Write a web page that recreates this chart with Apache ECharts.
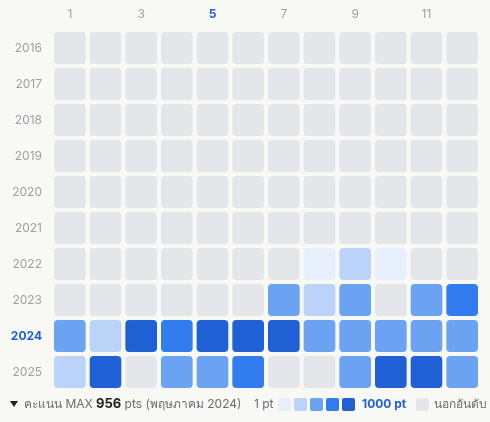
<!DOCTYPE html>
<html><head><meta charset="utf-8">
<script src="https://cdn.jsdelivr.net/npm/echarts@6/dist/echarts.min.js"></script>
<style>html,body{margin:0;padding:0;background:#f8f8f5}#c{width:490px;height:422px}</style>
</head><body><div id="c"></div>
<script>
const months = ['1','2','3','4','5','6','7','8','9','10','11','12'];
const years = ['2016','2017','2018','2019','2020','2021','2022','2023','2024','2025'];
// points per month per year; null = out of ranking
const y2022 = [null,null,null,null,null,null,null,60,220,50,null,null];
const y2023 = [null,null,null,null,null,null,450,230,460,null,440,700];
const y2024 = [470,210,880,720,956,900,910,460,450,470,460,450];
const y2025 = [230,890,null,450,440,720,null,null,460,900,910,450];
const rows = {'2022':y2022,'2023':y2023,'2024':y2024,'2025':y2025};
const maxYear='2024', maxMonth='5';
const levelColors=['#e8effc','#bcd3f9','#6ba2f1','#317def','#1f60d5'];
const emptyColor='#e5e6ea';
const data=[];
years.forEach(y=>{months.forEach((m,i)=>{const v=rows[y]?rows[y][i]:null;data.push([m,y,v==null?-1:v]);});});
const chart=echarts.init(document.getElementById('c'));
const font='Inter, "Noto Sans", sans-serif';
chart.setOption({
 backgroundColor:'#f8f8f5',
 grid:{left:52,right:10,top:30,bottom:32},
 xAxis:{type:'category',data:months,position:'top',axisLine:{show:false},axisTick:{show:false},
  axisLabel:{margin:10,fontFamily:font,fontSize:12,color:'#a09ea6',
   formatter:v=>v===maxMonth?'{b|'+v+'}':v,rich:{b:{color:'#1f60d5',fontWeight:'bold',fontFamily:font,fontSize:12}}}},
 yAxis:{type:'category',data:years,inverse:true,axisLine:{show:false},axisTick:{show:false},
  axisLabel:{margin:10,fontFamily:font,fontSize:12,color:'#a09ea6',
   formatter:v=>v===maxYear?'{b|'+v+'}':v,rich:{b:{color:'#1f60d5',fontWeight:'bold',fontFamily:font,fontSize:12}}}},
 visualMap:{show:false,type:'piecewise',dimension:2,seriesIndex:0,pieces:[
  {lt:0,color:emptyColor},{gte:0,lt:150,color:levelColors[0]},{gte:150,lt:350,color:levelColors[1]},
  {gte:350,lt:600,color:levelColors[2]},{gte:600,lt:800,color:levelColors[3]},{gte:800,color:levelColors[4]}]},
 series:[{type:'custom',data:data,renderItem:(params,api)=>{
   const c=api.coord([api.value(0),api.value(1)]);
   const s=api.size([1,1]);
   const w=s[0]-4,h=s[1]-4;
   const children=[{type:'rect',shape:{x:c[0]-w/2,y:c[1]-h/2,width:w,height:h,r:4},style:{fill:api.visual('color')}}];
   if(api.value(0)==maxMonth && api.value(1)==maxYear){
     children.push({type:'rect',shape:{x:c[0]-w/2-1,y:c[1]-h/2-1,width:w+2,height:h+2,r:5},style:{fill:'none',stroke:'#111',lineWidth:2.2}});
     const ty=c[1]-h/2-9;
     children.push({type:'polygon',shape:{points:[[c[0]-4,ty-3],[c[0]+4,ty-3],[c[0],ty+3]]},style:{fill:'#222'}});
   }
   return {type:'group',children};
 }}],
 graphic:[
  {type:'polygon',shape:{points:[[10,401],[18,401],[14,407]]},style:{fill:'#222'}},
  {type:'text',left:24,top:398,style:{text:'{a|คะแนน MAX }{b|956}{a| pts (พฤษภาคม 2024)}',rich:{a:{fill:'#6b6b73',fontSize:12,fontFamily:font},b:{fill:'#222',fontSize:13,fontWeight:'bold',fontFamily:font}}}},
  {type:'text',left:254,top:398,style:{text:'1 pt',fill:'#6b6b73',fontSize:12,fontFamily:font}},
  ...levelColors.map((col,i)=>({type:'rect',shape:{x:278+i*16,y:398,width:13,height:13,r:2},style:{fill:col}})),
  {type:'text',left:362,top:398,style:{text:'1000 pt',fill:'#1f60d5',fontSize:12,fontWeight:'bold',fontFamily:font}},
  {type:'rect',shape:{x:416,y:398,width:13,height:13,r:2},style:{fill:emptyColor}},
  {type:'text',left:434,top:398,style:{text:'นอกอันดับ',fill:'#6b6b73',fontSize:12,fontFamily:font}}
 ]
});
</script></body></html>
